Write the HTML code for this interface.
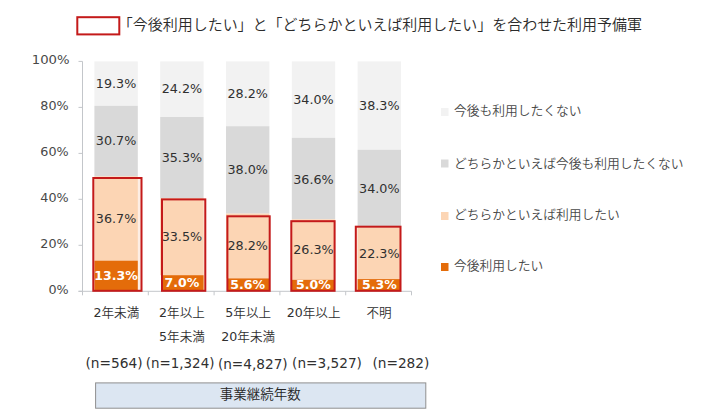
<!DOCTYPE html>
<html lang="ja"><head><meta charset="utf-8"><title>chart</title>
<style>html,body{margin:0;padding:0;background:#fff;}svg{display:block;}text{font-family:"DejaVu Sans", "Liberation Sans", "Noto Sans CJK JP", sans-serif;fill:#303030;}.j{font-family:"Liberation Sans", "Noto Sans CJK JP", sans-serif;}.b{font-weight:bold;fill:#fff;}.j,.c{font-weight:350;}</style></head><body>
<svg width="716" height="419" viewBox="0 0 716 419">
<rect x="0" y="0" width="716" height="419" fill="#ffffff"/>
<rect x="77.3" y="17.2" width="42" height="17.2" fill="#fff" stroke="#c41a1a" stroke-width="2"/>
<text class="j" x="117.8" y="30.2" font-size="15" style="fill:#2b2b2b" textLength="524.2" lengthAdjust="spacing">「今後利用したい」と「どちらかといえば利用したい」を合わせた利用予備軍</text>
<rect x="94.4" y="61.4" width="43.4" height="44.4" fill="#f2f2f2"/>
<rect x="94.4" y="105.8" width="43.4" height="70.6" fill="#d9d9d9"/>
<rect x="93.3" y="178.0" width="48.2" height="112.8" fill="#fdeee4"/>
<rect x="94.4" y="176.4" width="43.4" height="84.4" fill="#fcd5b4"/>
<rect x="94.4" y="260.7" width="43.4" height="30.1" fill="#e46c0a"/>
<rect x="160.2" y="61.4" width="43.4" height="55.6" fill="#f2f2f2"/>
<rect x="160.2" y="117.0" width="43.4" height="81.2" fill="#d9d9d9"/>
<rect x="162.0" y="199.4" width="43.3" height="91.4" fill="#fdeee4"/>
<rect x="160.2" y="198.2" width="43.4" height="77.0" fill="#fcd5b4"/>
<rect x="162.0" y="275.2" width="41.6" height="15.6" fill="#e46c0a"/>
<rect x="226.0" y="61.4" width="43.4" height="64.8" fill="#f2f2f2"/>
<rect x="226.0" y="126.2" width="43.4" height="87.4" fill="#d9d9d9"/>
<rect x="227.4" y="216.3" width="42.3" height="74.5" fill="#fdeee4"/>
<rect x="226.0" y="213.6" width="43.4" height="64.8" fill="#fcd5b4"/>
<rect x="227.4" y="278.4" width="42.0" height="12.4" fill="#e46c0a"/>
<rect x="291.8" y="61.4" width="43.4" height="76.4" fill="#f2f2f2"/>
<rect x="291.8" y="137.8" width="43.4" height="81.5" fill="#d9d9d9"/>
<rect x="291.3" y="221.2" width="43.3" height="69.6" fill="#fdeee4"/>
<rect x="291.8" y="219.3" width="43.4" height="60.5" fill="#fcd5b4"/>
<rect x="291.8" y="279.8" width="42.8" height="11.0" fill="#e46c0a"/>
<rect x="357.6" y="61.4" width="43.4" height="88.3" fill="#f2f2f2"/>
<rect x="357.6" y="149.7" width="43.4" height="78.2" fill="#d9d9d9"/>
<rect x="355.8" y="226.7" width="44.7" height="64.1" fill="#fdeee4"/>
<rect x="357.6" y="227.8" width="43.4" height="51.3" fill="#fcd5b4"/>
<rect x="357.6" y="279.1" width="42.9" height="11.7" fill="#e46c0a"/>
<line x1="82.5" y1="61.4" x2="82.5" y2="295.3" stroke="#c3c6ca" stroke-width="1"/>
<line x1="78.5" y1="291.3" x2="411.5" y2="291.3" stroke="#c3c6ca" stroke-width="1"/>
<line x1="78.5" y1="291.3" x2="82.5" y2="291.3" stroke="#c3c6ca" stroke-width="1"/>
<text transform="translate(68.6 294.2) scale(1.045 1)" font-size="12.2" text-anchor="end" style="fill:#484848">0%</text>
<line x1="78.5" y1="245.3" x2="82.5" y2="245.3" stroke="#c3c6ca" stroke-width="1"/>
<text transform="translate(68.6 248.3) scale(1.045 1)" font-size="12.2" text-anchor="end" style="fill:#484848">20%</text>
<line x1="78.5" y1="199.3" x2="82.5" y2="199.3" stroke="#c3c6ca" stroke-width="1"/>
<text transform="translate(68.6 202.3) scale(1.045 1)" font-size="12.2" text-anchor="end" style="fill:#484848">40%</text>
<line x1="78.5" y1="153.4" x2="82.5" y2="153.4" stroke="#c3c6ca" stroke-width="1"/>
<text transform="translate(68.6 156.3) scale(1.045 1)" font-size="12.2" text-anchor="end" style="fill:#484848">60%</text>
<line x1="78.5" y1="107.4" x2="82.5" y2="107.4" stroke="#c3c6ca" stroke-width="1"/>
<text transform="translate(68.6 110.3) scale(1.045 1)" font-size="12.2" text-anchor="end" style="fill:#484848">80%</text>
<line x1="78.5" y1="61.4" x2="82.5" y2="61.4" stroke="#c3c6ca" stroke-width="1"/>
<text transform="translate(69.6 64.4) scale(1.085 1)" font-size="12.2" text-anchor="end" style="fill:#484848">100%</text>
<line x1="148.3" y1="291.3" x2="148.3" y2="295.3" stroke="#c3c6ca" stroke-width="1"/>
<line x1="214.1" y1="291.3" x2="214.1" y2="295.3" stroke="#c3c6ca" stroke-width="1"/>
<line x1="279.9" y1="291.3" x2="279.9" y2="295.3" stroke="#c3c6ca" stroke-width="1"/>
<line x1="345.7" y1="291.3" x2="345.7" y2="295.3" stroke="#c3c6ca" stroke-width="1"/>
<line x1="411.5" y1="291.3" x2="411.5" y2="295.3" stroke="#c3c6ca" stroke-width="1"/>
<text transform="translate(116.1 87.7) scale(1.045 1)" font-size="12.2" text-anchor="middle">19.3%</text>
<text transform="translate(116.1 145.3) scale(1.045 1)" font-size="12.2" text-anchor="middle">30.7%</text>
<text transform="translate(116.1 222.6) scale(1.045 1)" font-size="12.2" text-anchor="middle">36.7%</text>
<text class="b" transform="translate(116.1 279.7) scale(1.03 1)" font-size="12.2" text-anchor="middle">13.3%</text>
<text transform="translate(181.9 93.4) scale(1.045 1)" font-size="12.2" text-anchor="middle">24.2%</text>
<text transform="translate(181.9 161.9) scale(1.045 1)" font-size="12.2" text-anchor="middle">35.3%</text>
<text transform="translate(181.9 240.7) scale(1.045 1)" font-size="12.2" text-anchor="middle">33.5%</text>
<text class="b" transform="translate(181.9 286.9) scale(1.03 1)" font-size="12.2" text-anchor="middle">7.0%</text>
<text transform="translate(247.7 98.0) scale(1.045 1)" font-size="12.2" text-anchor="middle">28.2%</text>
<text transform="translate(247.7 174.2) scale(1.045 1)" font-size="12.2" text-anchor="middle">38.0%</text>
<text transform="translate(247.7 250.1) scale(1.045 1)" font-size="12.2" text-anchor="middle">28.2%</text>
<text class="b" transform="translate(247.7 288.5) scale(1.03 1)" font-size="12.2" text-anchor="middle">5.6%</text>
<text transform="translate(313.5 104.4) scale(1.045 1)" font-size="12.2" text-anchor="middle">34.0%</text>
<text transform="translate(313.5 183.7) scale(1.045 1)" font-size="12.2" text-anchor="middle">36.6%</text>
<text transform="translate(313.5 253.6) scale(1.045 1)" font-size="12.2" text-anchor="middle">26.3%</text>
<text class="b" transform="translate(313.5 289.2) scale(1.03 1)" font-size="12.2" text-anchor="middle">5.0%</text>
<text transform="translate(379.3 109.7) scale(1.045 1)" font-size="12.2" text-anchor="middle">38.3%</text>
<text transform="translate(379.3 193.0) scale(1.045 1)" font-size="12.2" text-anchor="middle">34.0%</text>
<text transform="translate(379.3 257.5) scale(1.045 1)" font-size="12.2" text-anchor="middle">22.3%</text>
<text class="b" transform="translate(379.3 288.9) scale(1.03 1)" font-size="12.2" text-anchor="middle">5.3%</text>
<rect x="93.3" y="178.0" width="48.2" height="112.8" fill="none" stroke="#c41a1a" stroke-width="2"/>
<rect x="162.0" y="199.4" width="43.3" height="91.4" fill="none" stroke="#c41a1a" stroke-width="2"/>
<rect x="227.4" y="216.3" width="42.3" height="74.5" fill="none" stroke="#c41a1a" stroke-width="2"/>
<rect x="291.3" y="221.2" width="43.3" height="69.6" fill="none" stroke="#c41a1a" stroke-width="2"/>
<rect x="355.8" y="226.7" width="44.7" height="64.1" fill="none" stroke="#c41a1a" stroke-width="2"/>
<text class="c" x="116.4" y="316.6" font-size="12.6" text-anchor="middle"><tspan font-weight="400">2</tspan>年未満</text>
<text class="c" x="182.0" y="316.6" font-size="12.6" text-anchor="middle"><tspan font-weight="400">2</tspan>年以上</text>
<text class="c" x="182.0" y="340.6" font-size="12.6" text-anchor="middle"><tspan font-weight="400">5</tspan>年未満</text>
<text class="c" x="248.2" y="316.6" font-size="12.6" text-anchor="middle"><tspan font-weight="400">5</tspan>年以上</text>
<text class="c" x="248.2" y="340.6" font-size="12.6" text-anchor="middle"><tspan font-weight="400">20</tspan>年未満</text>
<text class="c" x="313.6" y="316.6" font-size="12.6" text-anchor="middle"><tspan font-weight="400">20</tspan>年以上</text>
<text class="c" x="379.1" y="316.6" font-size="12.6" text-anchor="middle">不明</text>
<text x="85.5" y="367.6" font-size="13.2" textLength="57.099999999999994" lengthAdjust="spacingAndGlyphs">(n=564)</text>
<text x="145.79999999999998" y="367.6" font-size="13.2" textLength="68.6" lengthAdjust="spacingAndGlyphs">(n=1,324)</text>
<text x="217.89999999999998" y="369.4" font-size="13.2" textLength="69.8" lengthAdjust="spacingAndGlyphs">(n=4,827)</text>
<text x="292.09999999999997" y="367.7" font-size="13.2" textLength="69.8" lengthAdjust="spacingAndGlyphs">(n=3,527)</text>
<text x="372.4" y="367.7" font-size="13.2" textLength="57.0" lengthAdjust="spacingAndGlyphs">(n=282)</text>
<rect x="95.6" y="382.9" width="330.2" height="25.3" fill="#dce6f2" stroke="#8f8f8f" stroke-width="1"/>
<text class="j" x="260.3" y="398.9" font-size="13.5" text-anchor="middle" style="fill:#262626">事業継続年数</text>
<rect x="441" y="108" width="7.5" height="8" fill="#f2f2f2"/>
<text class="j" x="454" y="115.1" font-size="12.75" style="fill:#484848">今後も利用したくない</text>
<rect x="441" y="159.5" width="7.5" height="8" fill="#d9d9d9"/>
<text class="j" x="454" y="167.6" font-size="12.75" style="fill:#484848">どちらかといえば今後も利用したくない</text>
<rect x="441" y="212" width="7.5" height="8" fill="#fcd5b4"/>
<text class="j" x="454" y="219.1" font-size="12.75" style="fill:#484848">どちらかといえば利用したい</text>
<rect x="441" y="263" width="7.5" height="8" fill="#e46c0a"/>
<text class="j" x="454" y="270.1" font-size="12.75" style="fill:#484848">今後利用したい</text>
</svg></body></html>
